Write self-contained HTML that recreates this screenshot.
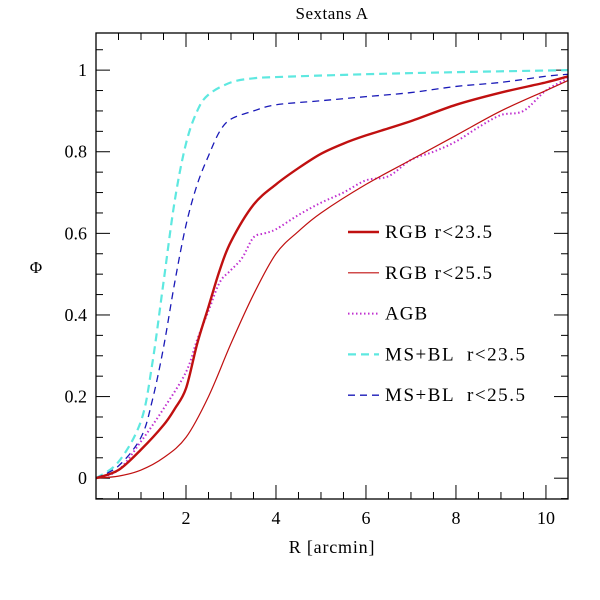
<!DOCTYPE html>
<html><head><meta charset="utf-8"><style>
html,body{margin:0;padding:0;background:#fff;}
svg{display:block;font-family:"Liberation Serif",serif;}
</style></head><body>
<svg id="chart" width="600" height="600" viewBox="0 0 600 600">
<text x="332" y="19" text-anchor="middle" font-size="17" letter-spacing="0.5">Sextans A</text>
<text x="332" y="553" text-anchor="middle" font-size="18" letter-spacing="0.8">R [arcmin]</text>
<text x="36" y="273" text-anchor="middle" font-size="17">Φ</text>
<g id="ticks"></g>
<g id="series"></g>
<g id="legend"></g>
<rect x="96" y="33" width="472" height="466" fill="none" stroke="#000" stroke-width="1.3"/>
</svg>
<script>
const xTicks=[2,4,6,8,10];
const yTicks=[0,0.2,0.4,0.6,0.8,1];
const yTickLabels=["0","0.2","0.4","0.6","0.8","1"];
const cyanX=[0,0.5,1,1.25,1.5,1.75,2,2.25,2.5,3,3.5,4,6,8,10.5];
const cyanY=[0,0.04,0.14,0.28,0.48,0.68,0.82,0.9,0.94,0.97,0.98,0.983,0.99,0.995,1.0];
const blueX=[0,0.5,1,1.25,1.5,1.75,2,2.25,2.5,2.75,3,3.5,4,5,6,7,8,9,10,10.5];
const blueY=[0,0.03,0.1,0.19,0.32,0.48,0.62,0.72,0.79,0.85,0.88,0.9,0.915,0.925,0.935,0.945,0.96,0.97,0.985,0.99];
const rgbBrightX=[0,0.5,1,1.5,1.75,2,2.25,2.5,2.75,3,3.5,4,4.5,5,5.5,6,7,8,9,10,10.5];
const rgbBrightY=[0,0.02,0.07,0.13,0.17,0.22,0.33,0.42,0.51,0.58,0.67,0.72,0.76,0.795,0.82,0.84,0.875,0.915,0.945,0.97,0.985];
const rgbFaintX=[0,0.5,1,1.5,2,2.5,3,3.5,4,4.5,5,6,7,8,9,10,10.5];
const rgbFaintY=[0,0.005,0.02,0.05,0.1,0.2,0.33,0.45,0.55,0.605,0.65,0.72,0.78,0.84,0.9,0.95,0.975];
const agbX=[0,0.5,1,1.5,2,2.25,2.5,2.75,3,3.25,3.5,3.75,4,4.5,5,5.5,6,6.5,7,7.5,8,8.5,9,9.5,10,10.5];
const agbY=[0,0.02,0.09,0.17,0.26,0.34,0.41,0.48,0.51,0.54,0.59,0.6,0.61,0.645,0.675,0.7,0.73,0.74,0.78,0.8,0.825,0.86,0.89,0.9,0.95,0.98];
const legendLabels=["RGB r<23.5","RGB r<25.5","AGB","MS+BL  r<23.5","MS+BL  r<25.5"];
const legendWidths=[107,107,0,140,140];

const NS="http://www.w3.org/2000/svg";
const X0=96,X1=568,Y0=499,Y1=33,XMIN=0,XMAX=10.49,YMIN=-0.051,YMAX=1.091;
function sx(v){return X0+(v-XMIN)/(XMAX-XMIN)*(X1-X0);}
function sy(v){return Y0-(v-YMIN)/(YMAX-YMIN)*(Y0-Y1);}
function mk(tag,attrs,parent){const e=document.createElementNS(NS,tag);for(const k in attrs)e.setAttribute(k,attrs[k]);parent.appendChild(e);return e;}
const tg=document.getElementById('ticks');
for(let i=1;i<=21;i++){const v=i*0.5;const x=sx(v);if(x>X1-1)break;const major=(i%4===0);const L=major?14:7;
 const t1=mk('line',{x1:x,x2:x,y1:Y0,y2:Y0-L,stroke:'#000','stroke-width':1},tg);
 
 
 const t2=mk('line',{x1:x,x2:x,y1:Y1,y2:Y1+L,stroke:'#000','stroke-width':1},tg);
 
 }
for(let i=-1;i<=21;i++){const v=i*0.05;const y=sy(v);if(y>Y0||y<Y1)continue;const major=(i%4===0);const L=major?14:7;
 const t1=mk('line',{x1:X0,x2:X0+L,y1:y,y2:y,stroke:'#000','stroke-width':1},tg);
 
 
 const t2=mk('line',{x1:X1,x2:X1-L,y1:y,y2:y,stroke:'#000','stroke-width':1},tg);
 
 }
xTicks.forEach(v=>{const t=mk('text',{x:sx(v),y:524,'text-anchor':'middle','font-size':18},tg);t.textContent=String(v);
 
 });
yTicks.forEach((v,i)=>{const t=mk('text',{x:87,y:sy(v)+6,'text-anchor':'end','font-size':18},tg);t.textContent=yTickLabels[i];
 
 });
const sg=document.getElementById('series');
const specs=[
 {xs:cyanX,ys:cyanY,c:'#5ee8e0',w:2.2,d:'8,5',n:'series-msbl-23-5'},
 {xs:blueX,ys:blueY,c:'#1a1ab8',w:1.3,d:'7,5',n:'series-msbl-25-5'},
 {xs:agbX,ys:agbY,c:'#c030d0',w:2,d:'1.5,2.5',n:'series-agb'},
 {xs:rgbFaintX,ys:rgbFaintY,c:'#c01010',w:1.2,d:'',n:'series-rgb-25-5'},
 {xs:rgbBrightX,ys:rgbBrightY,c:'#c01010',w:2.4,d:'',n:'series-rgb-23-5'}];
function pathFor(xs,ys){const p=xs.map((x,i)=>[sx(x),sy(ys[i])]);let d='M'+p[0][0]+','+p[0][1];
 for(let i=0;i<p.length-1;i++){const p0=p[i-1]||p[i],p1=p[i],p2=p[i+1],p3=p[i+2]||p2;
 const c1x=p1[0]+(p2[0]-p0[0])/6,c1y=p1[1]+(p2[1]-p0[1])/6,c2x=p2[0]-(p3[0]-p1[0])/6,c2y=p2[1]-(p3[1]-p1[1])/6;
 d+=' C'+c1x+','+c1y+' '+c2x+','+c2y+' '+p2[0]+','+p2[1];}return d;}
specs.forEach(s=>{const e=mk('path',{d:pathFor(s.xs,s.ys),fill:'none',stroke:s.c,'stroke-width':s.w,'stroke-dasharray':s.d||'none'},sg);
 
 });
const lg=document.getElementById('legend');
const lspec=[specs[4],specs[3],specs[2],specs[0],specs[1]];
legendLabels.forEach((lab,i)=>{const y=228+i*40.8;
 const l=mk('line',{x1:348,x2:379,y1:y+4,y2:y+4,stroke:lspec[i].c,'stroke-width':lspec[i].w,'stroke-dasharray':lspec[i].d||'none'},lg);
 
 
 const attrs={x:385,y:y+10,'font-size':19};
 if(legendWidths[i]>0){attrs.textLength=legendWidths[i];attrs.lengthAdjust='spacing';}
 else{attrs['letter-spacing']=1;}
 const t=mk('text',attrs,lg);t.textContent=lab;t.style.whiteSpace='pre';
 
 });
</script>
</body></html>
